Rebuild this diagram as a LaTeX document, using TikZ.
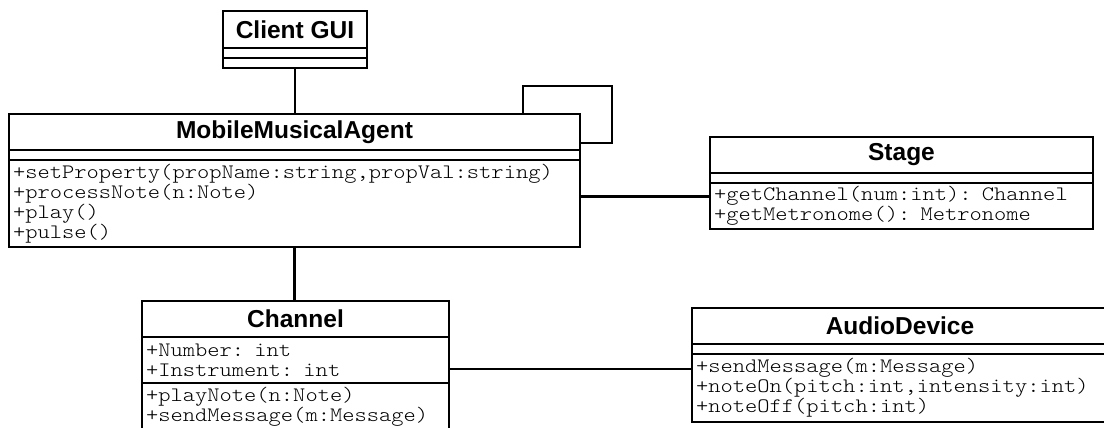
\documentclass[tikz,border=0pt]{standalone}
\usepackage{fontspec}
\newfontfamily\umlsans{Liberation Sans}
\newfontfamily\umlmono{lmmonolt10-regular.otf}[FakeStretch=1.14]
\begin{document}
\begin{tikzpicture}[x=1pt, y=-1pt, line width=2.6pt,
    classname/.style={draw, anchor=north west, inner sep=0pt, outer sep=0pt,
      font=\umlsans\bfseries\fontsize{24.5}{26}\selectfont},
    compart/.style={draw, anchor=north west, inner xsep=4pt, inner ysep=0pt, outer sep=0pt,
      align=left, font=\umlmono\fontsize{20.5}{20}\selectfont}]
      \useasboundingbox (0,0) rectangle (1104,428);
      \node[classname, minimum width=144pt, minimum height=37pt] (gui) at (223,11) {Client GUI};
      \node[compart, text width=136pt, minimum height=10pt] (guiattr) at (223,48) {};
      \node[compart, text width=136pt, minimum height=10pt] (guiops) at (223,58) {};
      \node[classname, minimum width=571pt, minimum height=36pt] (agent) at (9,114) {MobileMusicalAgent};
      \node[compart, text width=563pt, minimum height=10pt] (agentattr) at (9,150) {};
      \node[compart, text width=563pt, minimum height=87pt] (agentops) at (9,160)
        {+setProperty(propName:string,propVal:string)\\+processNote(n:Note)\\+play()\\+pulse()};
      \node[classname, minimum width=383pt, minimum height=36pt] (stage) at (710,137) {Stage};
      \node[compart, text width=375pt, minimum height=10pt] (stageattr) at (710,173) {};
      \node[compart, text width=375pt, minimum height=46pt] (stageops) at (710,183)
        {+getChannel(num:int): Channel\\+getMetronome(): Metronome};
      \node[classname, minimum width=307pt, minimum height=36pt] (channel) at (142,301) {Channel};
      \node[compart, text width=299pt, minimum height=46pt] (channelattr) at (142,337)
        {+Number: int\\+Instrument: int};
      \node[compart, text width=299pt, minimum height=48pt] (channelops) at (142,383)
        {+playNote(n:Note)\\+sendMessage(m:Message)};
      \node[classname, minimum width=416pt, minimum height=36pt] (audio) at (692,308) {AudioDevice};
      \node[compart, text width=408pt, minimum height=10pt] (audioattr) at (692,344) {};
      \node[compart, text width=408pt, minimum height=68pt] (audioops) at (692,354)
        {+sendMessage(m:Message)\\+noteOn(pitch:int,intensity:int)\\+noteOff(pitch:int)};
      \coordinate (loop) at (612,86);
      \begin{scope}[-]
        \draw (guiops.south) to (guiops.south |- agent.north);
        \draw ([xshift=514pt]agent.north west) |- (loop) |- ([yshift=-29pt]agent.north east);
        \draw ([yshift=7pt]agentops.east) to ([yshift=7pt]agentops.east -| stageops.west);
        \draw (agentops.south) to (agentops.south |- channel.north);
        \draw ([yshift=-9pt]channelattr.east) to ([yshift=-9pt]channelattr.east -| audioops.west);
      \end{scope}
    \end{tikzpicture}
\end{document}
